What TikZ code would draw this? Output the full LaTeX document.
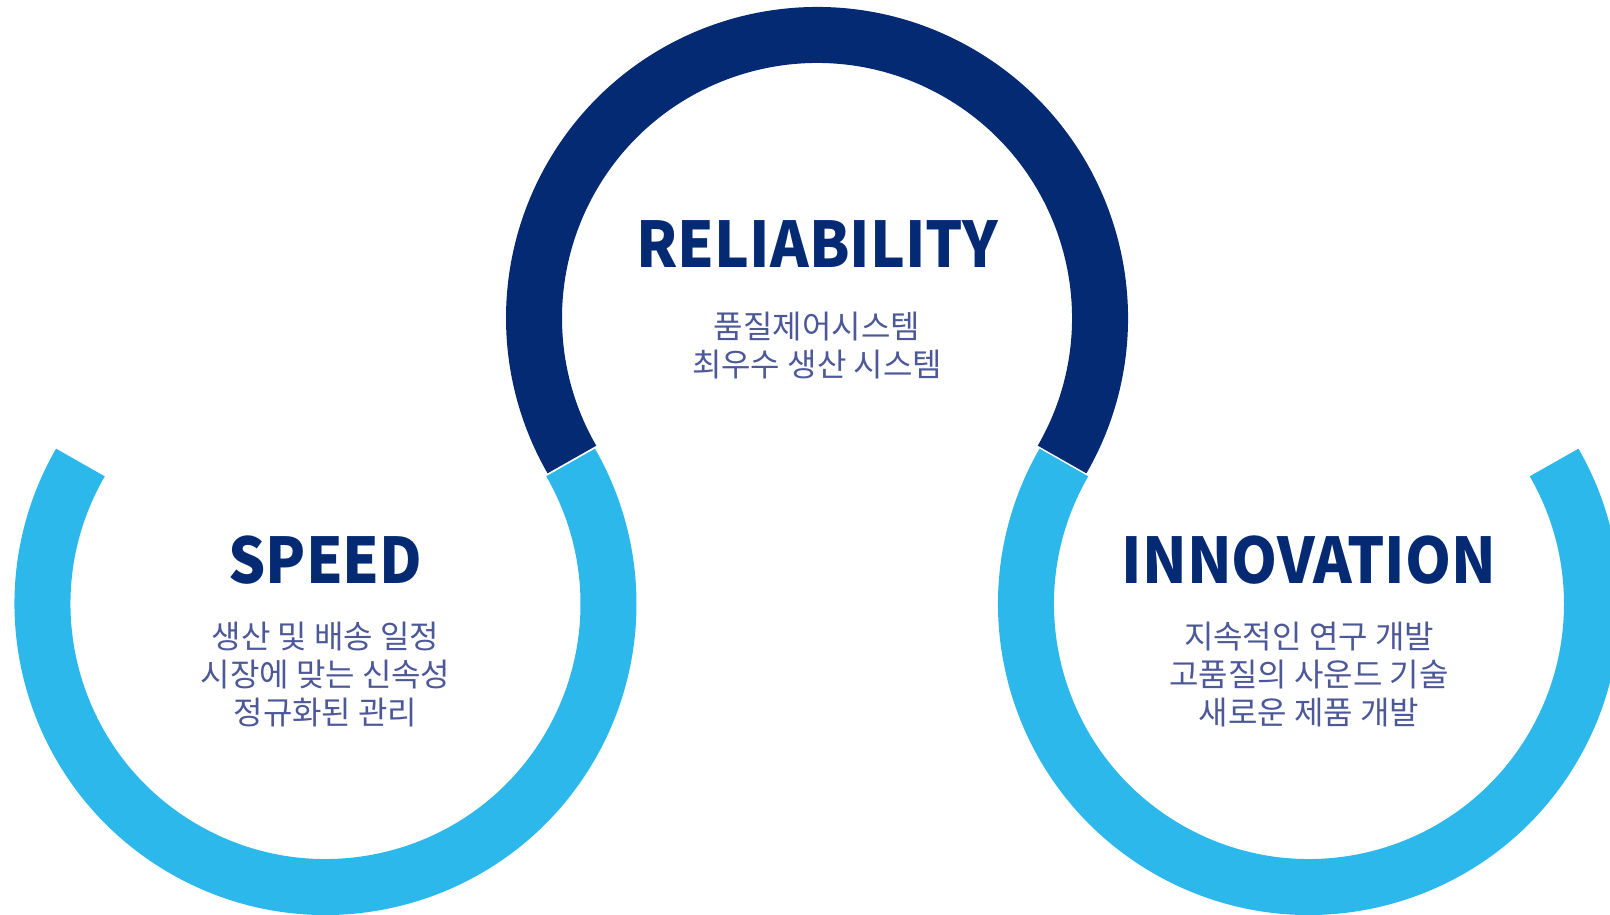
\documentclass[tikz,border=0pt]{standalone}
\usepackage{fontspec}
\newfontfamily\cjk{Noto Sans CJK KR}
\newfontfamily\cjkhead{Noto Sans CJK KR}[FakeStretch=0.93]
\usetikzlibrary{positioning}
\definecolor{navy}{HTML}{032A72}
\definecolor{sky}{HTML}{2DB8EC}
\definecolor{slate}{HTML}{4C5898}
\tikzset{
    ring/.style = {line width=56pt, line cap=butt}, % thick arc of each circle
    title/.style = {font=\cjkhead\bfseries\fontsize{63}{63}\selectfont, text=navy, inner sep=0pt},
    desc/.style = {font=\cjk\fontsize{32}{38}\selectfont, text=slate, align=center, inner sep=0pt}
}
\begin{document}
\begin{tikzpicture}[x=1pt, y=1pt]
    \useasboundingbox (0,0) rectangle (1610,914);
    \coordinate (ctop) at (817,596);
    \coordinate (cleft) at (325.5,310);
    \coordinate (cright) at (1309,310);
    % rings
    \draw[ring, sky] (cleft) ++(150:283) arc[start angle=150, end angle=390, radius=283];
    \draw[ring, sky] (cright) ++(150:283) arc[start angle=150, end angle=390, radius=283];
    \draw[ring, navy] (ctop) ++(-30:283) arc[start angle=-30, end angle=210, radius=283];
    % texts
    \node[title] (reliab) at (817,670) {RELIABILITY};
    \node[desc, below=44pt of reliab] (reliabtxt) {품질제어시스템\\최우수 생산 시스템};
    \node[title] (speed) at (325.5,354) {SPEED};
    \node[desc, below=37pt of speed] (speedtxt) {생산 및 배송 일정\\시장에 맞는 신속성\\정규화된 관리};
    \node[title] (innov) at (1309,354) {INNOVATION};
    \node[desc, below=37pt of innov] (innovtxt) {지속적인 연구 개발\\고품질의 사운드 기술\\새로운 제품 개발};
\end{tikzpicture}
\end{document}
